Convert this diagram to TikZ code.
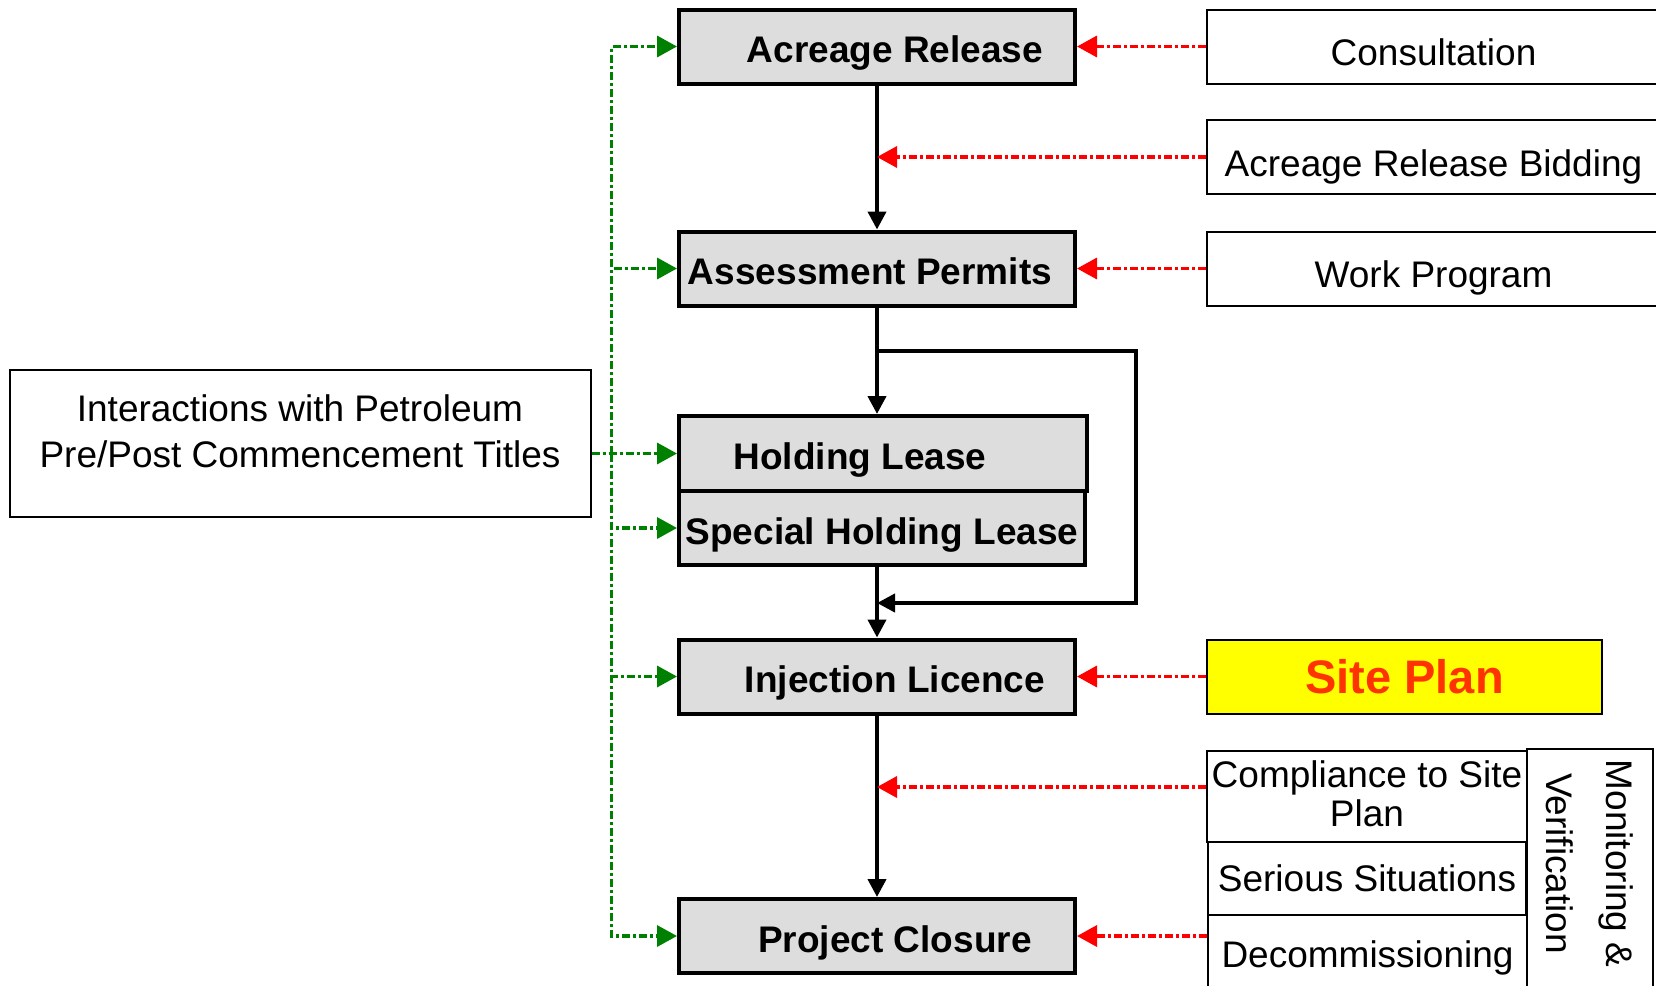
\documentclass[tikz,border=0pt]{standalone}
\usepackage{fontspec}
\setmainfont{Liberation Sans}
\usetikzlibrary{arrows.meta}

\definecolor{stagegray}{HTML}{DDDDDD}
\definecolor{feedgreen}{HTML}{008000}
\definecolor{needred}{HTML}{FF0000}
\definecolor{siteyellow}{HTML}{FFFF00}
\definecolor{sitetext}{HTML}{FF3300}

\tikzset{
	stage/.style={draw, line width=4pt, fill=stagegray, minimum width=396pt, minimum height=74pt, inner sep=0pt, text height=34pt, text depth=2pt, font=\fontsize{37}{46}\selectfont\bfseries},
	input/.style={draw, line width=2pt, minimum height=74pt, inner sep=0pt, align=center, font=\fontsize{37}{46}\selectfont},
	flow/.style={line width=4pt, -{Triangle[length=18pt,width=18pt]}},
	feed/.style={feedgreen, line width=3.5pt, dash pattern=on 8pt off 3pt on 3pt off 3pt, -{Triangle[length=20pt,width=21pt]}},
	need/.style={needred, line width=3.5pt, dash pattern=on 8pt off 3pt on 3pt off 3pt, -{Triangle[length=20pt,width=21pt]}}
}

\begin{document}
\begin{tikzpicture}[x=1pt,y=-1pt]
	% Define the variables
	\def\busx{611.5}
	
	% Page
	\clip (0,0) rectangle (1656,985);
	
	% Stages
	\node[stage] (rel) at (877,46.5) {\hspace*{36pt}Acreage Release};
	\node[stage] (perm) at (877,268.5) {Assessment Permits\hspace*{14pt}};
	\node[stage, minimum width=408pt, minimum height=75pt] (hold) at (883,453.5) {Holding Lease\hspace*{46pt}};
	\node[stage, minimum width=406pt] (spec) at (882,528) {Special Holding Lease};
	\node[stage] (inj) at (877,676.5) {\hspace*{36pt}Injection Licence};
	\node[stage] (clos) at (877,936) {\hspace*{36pt}Project Closure};
	
	% Inputs
	\node[input, minimum width=453pt, text height=38pt, text depth=0pt] (cons) at (1433.5,46.5) {Consultation};
	\node[input, minimum width=453pt, text height=38pt, text depth=0pt] (bid) at (1433.5,157) {Acreage Release Bidding};
	\node[input, minimum width=453pt, text height=38pt, text depth=0pt] (wp) at (1433.5,268.5) {Work Program};
	\node[input, fill=siteyellow, minimum width=395pt, text=sitetext, font=\fontsize{47}{56}\selectfont\bfseries] (site) at (1404.5,676.5) {Site Plan};
	\node[input, minimum width=320pt, minimum height=91pt, text depth=6pt, font=\fontsize{37}{39}\selectfont] (comp) at (1367,796.5) {Compliance to Site\\Plan};
	\node[input, minimum width=318pt, minimum height=73pt] (ser) at (1367,878.5) {Serious Situations};
	\node[input, minimum width=319pt, minimum height=85pt] (dec) at (1367.5,957.5) {Decommissioning};
	\node[input, rotate=-90, minimum width=251pt, minimum height=126pt, font=\fontsize{37}{60}\selectfont] (mon) at (1590,874.5) {Monitoring \&\hspace*{22pt}\\Verification\hspace*{22pt}};
	\node[input, minimum width=581pt, minimum height=147pt, text depth=25pt] (inter) at (300,443.5) {Interactions with Petroleum\\Pre/Post Commencement Titles};
	
	% Main flow
	\draw[flow] (rel.south) -- (perm.north);
	\draw[flow] (perm.south) -- (perm.south |- hold.north);
	\draw[flow] (inj.north |- spec.south) -- (inj.north);
	\draw[flow] (inj.south) -- (clos.north);
	
	% Bypass of the leases
	\coordinate (byTop) at (1136,350.6);
	\coordinate (byBot) at (1136,603);
	\draw[flow] (perm.south |- byTop) -- (byTop) -- (byBot) -- (inj.north |- byBot);
	
	% Title interactions
	\coordinate (bus) at (\busx,0);
	\draw[feed] (inter.east |- hold.west) -- (hold.west);
	\foreach \n in {rel,perm,spec,inj,clos}
	\draw[feed] (bus |- hold.west) |- (\n.west);
	
	% Requirements
	\coordinate (compin) at ([yshift=9.5pt]comp.west);
	\draw[need] (cons.west) -- (rel.east);
	\draw[need] (bid.west) -- (bid.west -| rel.south);
	\draw[need] (wp.west) -- (perm.east);
	\draw[need] (site.west) -- (inj.east);
	\draw[need] (compin) -- (compin -| inj.south);
	\draw[need] (dec.west |- clos.east) -- (clos.east);
\end{tikzpicture}
\end{document}
